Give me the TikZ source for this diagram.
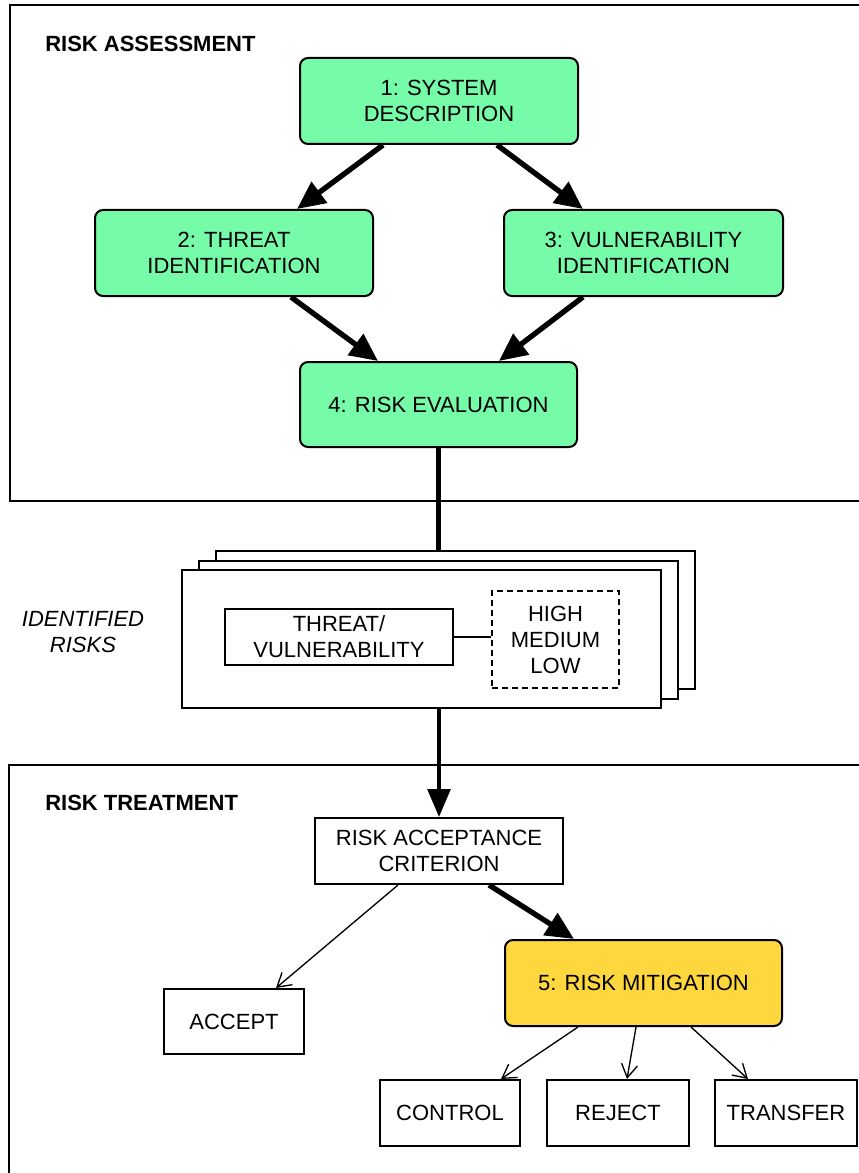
\documentclass[tikz,border=0pt]{standalone}
\usepackage{fontspec}
\setmainfont{Liberation Sans}
\usetikzlibrary{arrows.meta,calc}
\definecolor{stepgreen}{RGB}{118,251,168}
\definecolor{mityellow}{RGB}{254,214,61}
\begin{document}
\begin{tikzpicture}[x=0.75pt,y=-0.75pt,
  base/.style={draw, line width=1.5pt, font=\fontsize{16.5}{19.5}\selectfont, align=center, inner sep=0pt},
  greenbox/.style={base, fill=stepgreen, rounded corners=6pt},
  yellowbox/.style={base, fill=mityellow, rounded corners=6pt},
  plainbox/.style={base, fill=white},
  card/.style={draw, line width=1.5pt, fill=white, minimum width=359.25pt, minimum height=103.5pt, inner sep=0pt},
  frame/.style={line width=1.5pt},
  header/.style={font=\fontsize{16.5}{19.5}\selectfont\bfseries, anchor=west, inner sep=0pt},
  bigarrow/.style={line width=4pt, -{Triangle[length=21pt,width=19pt]}},
  thinarrow/.style={line width=1pt, -{Straight Barb[length=10pt,width=12pt]}}
]
\clip (0,0) rectangle (859,1173);
\fill[white] (0,0) rectangle (859,1173);
% frames
\draw[frame] (10,5) rectangle (875,501);
\draw[frame] (9,765) rectangle (875,1190);
\node[header] (hA) at (45,44) {RISK ASSESSMENT};
\node[header] (hT) at (45,803) {RISK TREATMENT};

% assessment nodes
\node[greenbox, minimum width=208.5pt, minimum height=64.5pt] (n1) at (439,101) {1: SYSTEM\\DESCRIPTION};
\node[greenbox, minimum width=208.5pt, minimum height=64.5pt] (n2) at (234,253) {2: THREAT\\IDENTIFICATION};
\node[greenbox, minimum width=209.25pt, minimum height=64.5pt] (n3) at (643.5,253) {3: VULNERABILITY\\IDENTIFICATION};
\node[greenbox, minimum width=207.75pt, minimum height=63.75pt] (n4) at (438.5,404.5) {4: RISK EVALUATION};

\draw[bigarrow] ($(n1.south)+(-56,0)$) -- ($(n2.north)+(63,0)$);
\draw[bigarrow] ($(n1.south)+(58,0)$) -- ($(n3.north)+(-60.5,0)$);
\draw[bigarrow] ($(n2.south)+(57,0)$) -- ($(n4.north)+(-60.5,0)$);
\draw[bigarrow] ($(n3.south)+(-60.5,0)$) -- ($(n4.north)+(60.5,0)$);

% identified risks stack
\node[card] (card3) at (455.5,620) {};
\node[card] (card2) at (438.5,629.5) {};
\node[card] (card1) at (421.5,639) {};
\node[plainbox, minimum width=171pt, minimum height=42pt] (tv) at (339,637) {THREAT/\\VULNERABILITY};
\node[base, dashed, dash pattern=on 4.5pt off 3pt, minimum width=95.25pt, minimum height=72.75pt] (hml) at (555.5,639.5) {HIGH\\MEDIUM\\LOW};
\draw[line width=1.2pt] (tv.east) -- (tv.east -| hml.west);
\node[font=\fontsize{16.5}{19.5}\selectfont\itshape, align=center, inner sep=0pt] (ir) at (83,632) {IDENTIFIED\\RISKS};

\draw[line width=3.75pt] (n4.south) -- (n4.south |- card3.north);

% treatment
\node[plainbox, minimum width=186pt, minimum height=49.5pt] (rac) at (439,851) {RISK ACCEPTANCE\\CRITERION};
\draw[line width=3pt, -{Triangle[length=21pt,width=17pt]}] (card1.south -| rac.north) -- (rac.north);

\node[plainbox, minimum width=105pt, minimum height=48.75pt] (acc) at (234,1021.5) {ACCEPT};
\node[yellowbox, minimum width=207.75pt, minimum height=64.5pt] (mit) at (643.5,983) {5: RISK MITIGATION};
\node[plainbox, minimum width=105pt, minimum height=49.5pt] (ctl) at (450,1113) {CONTROL};
\node[plainbox, minimum width=106.5pt, minimum height=49.5pt] (rej) at (618,1113) {REJECT};
\node[plainbox, minimum width=106.5pt, minimum height=49.5pt] (trf) at (786,1113) {TRANSFER};

\draw[bigarrow] ($(rac.south)+(50,0)$) -- ($(mit.north)+(-69.5,0)$);
\draw[thinarrow] ($(rac.south)+(-41,0)$) -- ($(acc.north)+(42,0)$);
\draw[thinarrow] ($(mit.south)+(-65.5,0)$) -- ($(ctl.north)+(51,0)$);
\draw[thinarrow] ($(mit.south)+(-7.5,0)$) -- ($(rej.north)+(9,0)$);
\draw[thinarrow] ($(mit.south)+(47.5,0)$) -- ($(trf.north)+(-38,0)$);
\end{tikzpicture}
\end{document}
